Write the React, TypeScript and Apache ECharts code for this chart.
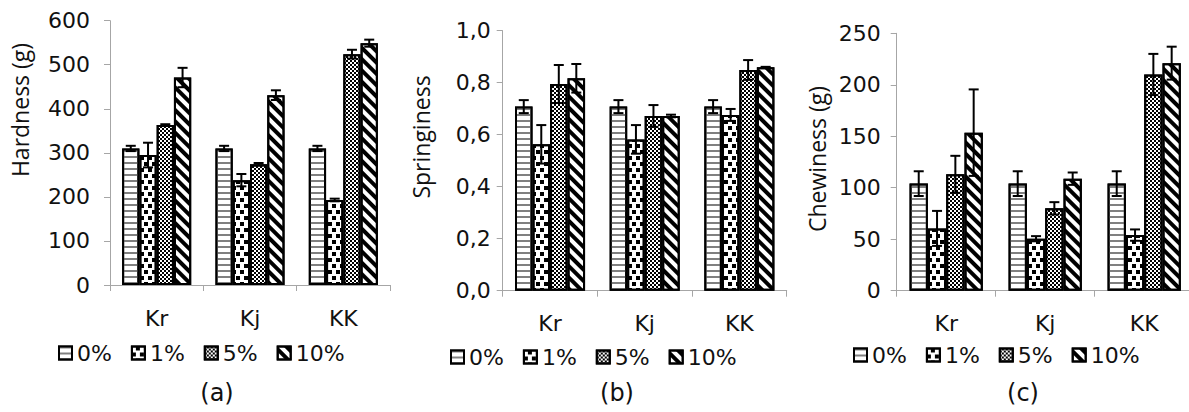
import React, { useEffect, useRef } from 'react';
import * as echarts from 'echarts';

const categories = ['Kr', 'Kj', 'KK'];
const levels = ['0%', '1%', '5%', '10%'];

// rows = levels (0%, 1%, 5%, 10%), columns = categories (Kr, Kj, KK)
const hardness = [
  [310, 310, 310],
  [295, 238, 193],
  [363, 274, 524],
  [471, 431, 549],
];
const hardnessErr = [
  [6, 6, 6],
  [28, 14, 3],
  [2, 3, 10],
  [22, 11, 8],
];
const springiness = [
  [0.708, 0.708, 0.708],
  [0.563, 0.582, 0.676],
  [0.795, 0.672, 0.849],
  [0.817, 0.672, 0.859],
];
const springinessErr = [
  [0.025, 0.025, 0.025],
  [0.074, 0.055, 0.023],
  [0.073, 0.042, 0.038],
  [0.055, 0.005, 0.002],
];
const chewiness = [
  [104, 104, 104],
  [60.5, 50.5, 54],
  [113, 80, 210],
  [153.5, 108.8, 221],
];
const chewinessErr = [
  [12, 12, 12],
  [17, 2.5, 5.5],
  [18, 6, 20],
  [42, 6, 16],
];

const yTitles = ['Hardness (g)', 'Springiness', 'Chewiness (g)'];
const panelTags = ['(a)', '(b)', '(c)'];
const yMax = [600, 1, 250];
const yInterval = [100, 0.2, 50];

const TICK_FONT = 'DejaVu Sans';
const TITLE_FONT = 'Open Sans';
const AXIS_GRAY = '#a6a6a6';
const CAT_GAP = 0.26;

const decals: any[] = [
  { symbol: 'rect', symbolSize: 1, color: '#808080', backgroundColor: '#ffffff', dashArrayX: [[8, 0]], dashArrayY: [2, 4], rotation: 0 },
  { symbol: 'rect', symbolSize: 1, color: '#000000', backgroundColor: '#ffffff', dashArrayX: [[4, 4], [0, 4, 4, 0]], dashArrayY: [4, 2], rotation: 0 },
  { symbol: 'rect', symbolSize: 1, color: '#000000', backgroundColor: '#ffffff', dashArrayX: [[2, 2], [0, 2, 2, 0]], dashArrayY: [2, 0], rotation: 0 },
  { symbol: 'rect', symbolSize: 1, color: '#000000', backgroundColor: '#ffffff', dashArrayX: [[8, 0]], dashArrayY: [4, 4], rotation: Math.PI / 4 },
];

const layout = [
  { grid: { left: 110, top: 20.7, width: 280, height: 264.3 }, labelMargin: 20, titleX: 20, titleY: 110, tagX: 217, legendLeft: 58, legendTop: 342, fmt: (v: number) => String(v) },
  { grid: { left: 502.7, top: 30.7, width: 284, height: 260 }, labelMargin: 12, titleX: 421, titleY: 137, tagX: 617, legendLeft: 450, legendTop: 346, fmt: (v: number) => v.toFixed(1).replace('.', ',') },
  { grid: { left: 896.7, top: 33.3, width: 297, height: 257.4 }, labelMargin: 16, titleX: 817, titleY: 159, tagX: 1023, legendLeft: 853, legendTop: 344, fmt: (v: number) => String(v) },
];

export default function App() {
  const ref = useRef<HTMLDivElement>(null);

  useEffect(() => {
    if (!ref.current) return;
    const chart = echarts.init(ref.current, undefined, { renderer: 'svg' });
    const values = [hardness, springiness, chewiness];
    const errors = [hardnessErr, springinessErr, chewinessErr];

    const grids: any[] = [];
    const xAxes: any[] = [];
    const yAxes: any[] = [];
    const legends: any[] = [];
    const series: any[] = [];
    const graphics: any[] = [];

    layout.forEach((L, p) => {
      grids.push({ ...L.grid, containLabel: false, outerBoundsMode: 'none' });
      xAxes.push({
        type: 'category',
        gridIndex: p,
        data: categories,
        axisLine: { show: true, lineStyle: { color: AXIS_GRAY, width: 1 } },
        axisTick: { show: true, length: 6, lineStyle: { color: AXIS_GRAY, width: 1 } },
        axisLabel: { color: '#111', fontFamily: TICK_FONT, fontSize: 22, margin: 22 },
        splitLine: { show: false },
      });
      yAxes.push({
        type: 'value',
        gridIndex: p,
        min: 0,
        max: yMax[p],
        interval: yInterval[p],
        axisLine: { show: true, lineStyle: { color: AXIS_GRAY, width: 1 } },
        axisTick: { show: true, length: 6, lineStyle: { color: AXIS_GRAY, width: 1 } },
        axisLabel: { color: '#111', fontFamily: TICK_FONT, fontSize: 22, margin: L.labelMargin, formatter: L.fmt },
        splitLine: { show: false },
      });
      legends.push({
        data: levels.map((name) => ({ name, icon: 'rect' })),
        left: L.legendLeft,
        top: L.legendTop,
        orient: 'horizontal',
        itemWidth: 13,
        itemHeight: 13,
        itemGap: 19,
        selectedMode: false,
        padding: 0,
        textStyle: { color: '#111', fontFamily: TICK_FONT, fontSize: 22 },
      });
      levels.forEach((lv, k) => {
        series.push({
          type: 'bar',
          name: lv,
          xAxisIndex: p,
          yAxisIndex: p,
          data: values[p][k],
          barGap: '0%',
          barCategoryGap: CAT_GAP * 100 + '%',
          itemStyle: { color: '#ffffff', borderColor: '#000000', borderWidth: 2, decal: decals[k] },
          emphasis: { disabled: true },
        });
      });
      levels.forEach((lv, k) => {
        series.push({
          type: 'custom',
          xAxisIndex: p,
          yAxisIndex: p,
          z: 10,
          silent: true,
          data: values[p][k].map((v, i) => [i, v, errors[p][k][i]]),
          renderItem: (params: any, api: any) => {
            const idx = api.value(0);
            const v = api.value(1);
            const e = api.value(2);
            const catW = api.size([1, 0])[0];
            const bw = (catW * (1 - CAT_GAP)) / 4;
            const cx = api.coord([idx, v])[0] + (k - 1.5) * bw;
            const yTop = api.coord([idx, v + e])[1];
            const yBot = api.coord([idx, Math.max(0, v - e)])[1];
            const cap = 5;
            const style = { stroke: '#000', lineWidth: 2 };
            return {
              type: 'group',
              children: [
                { type: 'line', shape: { x1: cx, y1: yTop, x2: cx, y2: yBot }, style },
                { type: 'line', shape: { x1: cx - cap, y1: yTop, x2: cx + cap, y2: yTop }, style },
                { type: 'line', shape: { x1: cx - cap, y1: yBot, x2: cx + cap, y2: yBot }, style },
              ],
            };
          },
        });
      });
      graphics.push({
        type: 'text',
        x: L.titleX,
        y: L.titleY,
        rotation: Math.PI / 2,
        style: { text: yTitles[p], fill: '#111', font: `23px "${TITLE_FONT}"`, textAlign: 'center', textVerticalAlign: 'middle' },
      });
      graphics.push({
        type: 'text',
        x: L.tagX,
        y: 393,
        style: { text: panelTags[p], fill: '#111', font: `24px "${TICK_FONT}"`, textAlign: 'center', textVerticalAlign: 'middle' },
      });
    });

    chart.setOption({
      animation: false,
      backgroundColor: '#ffffff',
      grid: grids,
      xAxis: xAxes,
      yAxis: yAxes,
      legend: legends,
      series,
      graphic: graphics,
    });
    return () => chart.dispose();
  }, []);

  return <div ref={ref} style={{ position: 'fixed', left: 0, top: 0, width: 1189, height: 412 }} />;
}
